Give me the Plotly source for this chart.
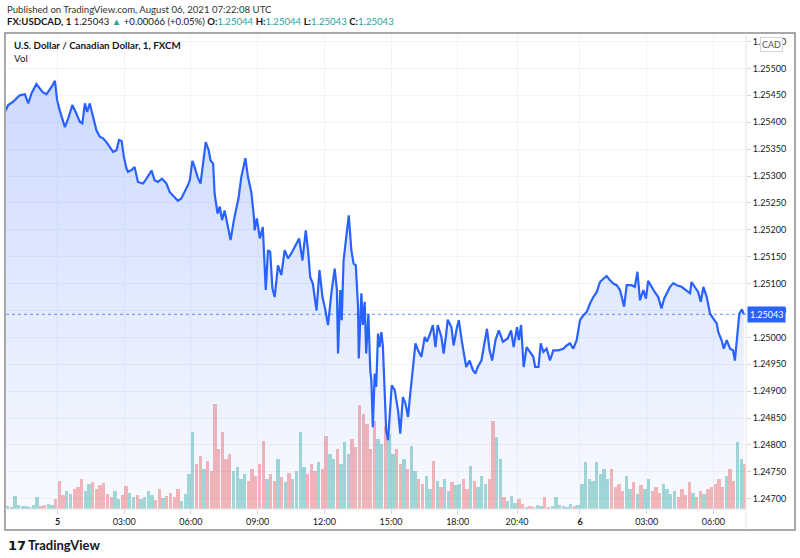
import numpy as np
import pandas as pd
import plotly.graph_objects as go

# USDCAD 1-minute chart
# times are minutes from 2021-08-05 00:00 UTC
price_min = [
    -142, -133, -120, -102, -88, -79, -70, -57, -48, -40,
    -30, -21, -13, -7, -1, 6, 15, 20, 29, 40,
    49, 60, 67, 74, 80, 87, 96, 105, 114, 123,
    132, 141, 150, 159, 166, 173, 179, 186, 190, 200,
    208, 217, 231, 240, 254, 262, 271, 282, 294, 303,
    314, 325, 334, 343, 352, 357, 364, 370, 378, 386,
    393, 400, 408, 413, 420, 424, 432, 438, 444, 451,
    458, 467, 476, 483, 489, 496, 503, 507, 514, 523,
    530, 532, 538, 546, 554, 559, 562, 568, 574, 580, 586,
    595, 604, 613, 622, 631, 640, 652, 661, 670, 676,
    682, 689, 699, 707, 715, 722, 730, 739, 748, 754,
    757, 763, 767, 772, 779, 786, 793, 799, 805, 811,
    813, 820, 824, 829, 833, 839, 844,
    847, 851, 856, 860, 865, 869, 874, 878, 883, 887, 892,
    898, 902, 910, 919, 925, 932, 939, 946, 952, 959,
    966, 973, 982, 991, 997, 1004, 1013, 1020, 1026, 1036,
    1042, 1049, 1053, 1063, 1069, 1078, 1083, 1092, 1103, 1112,
    1121, 1128, 1134, 1144, 1152, 1159, 1166, 1173, 1182, 1191,
    1202, 1215, 1224, 1231, 1240, 1245, 1251, 1258,
    1296, 1305, 1314, 1319, 1328, 1334, 1341, 1350, 1359, 1368, 1381, 1395, 1404, 1413, 1422, 1431,
    1440, 1449, 1458, 1467, 1476, 1485, 1494, 1503, 1512, 1521, 1530, 1539, 1548,
    1559, 1566, 1579, 1588, 1595, 1602, 1611, 1618, 1624, 1633, 1642, 1651, 1660,
    1667, 1674, 1683, 1692, 1701, 1714, 1726, 1737, 1741, 1750, 1759, 1766, 1773, 1782,
    1791, 1800, 1809, 1813, 1822, 1828, 1836, 1845, 1853, 1858, 1864, 1870, 1877, 1882,
]
prices = [
    1.25419, 1.25432, 1.25438, 1.25450, 1.25452, 1.25435, 1.25454, 1.25471, 1.25463, 1.25456,
    1.25452, 1.25460, 1.25469, 1.25477, 1.25441, 1.25422, 1.25404, 1.25391, 1.25407, 1.25432,
    1.25419, 1.25401, 1.25398, 1.25435, 1.25419, 1.25435, 1.25410, 1.25385, 1.25373, 1.25370,
    1.25363, 1.25354, 1.25345, 1.25348, 1.25367, 1.25365, 1.25336, 1.25314, 1.25308, 1.25311,
    1.25317, 1.25289, 1.25286, 1.25295, 1.25310, 1.25292, 1.25289, 1.25295, 1.25286, 1.25270,
    1.25261, 1.25254, 1.25258, 1.25270, 1.25283, 1.25292, 1.25328, 1.25317, 1.25298, 1.25286,
    1.25323, 1.25363, 1.25348, 1.25329, 1.25323, 1.25267, 1.25230, 1.25243, 1.25218, 1.25236,
    1.25212, 1.25181, 1.25218, 1.25243, 1.25261, 1.25298, 1.25323, 1.25333, 1.25298, 1.25270,
    1.25224, 1.25199, 1.25221, 1.25184, 1.25205, 1.25143, 1.25088, 1.25162, 1.25159, 1.25091, 1.25075,
    1.25134, 1.25116, 1.25162, 1.25147, 1.25156, 1.25168, 1.25184, 1.25143, 1.25199, 1.25162,
    1.25112, 1.25100, 1.25050, 1.25125, 1.25075, 1.25054, 1.25023, 1.25082, 1.25128, 1.25088,
    1.24970, 1.25088, 1.25032, 1.25143, 1.25181, 1.25227, 1.25162, 1.25137, 1.25134, 1.25057,
    1.24961, 1.25082, 1.25023, 1.25066, 1.24970, 1.25044, 1.24939,
    1.24920, 1.24833, 1.24933, 1.24908, 1.25007, 1.24982, 1.25010, 1.24985, 1.24889, 1.24827, 1.24809,
    1.24864, 1.24911, 1.24902, 1.24864, 1.24821, 1.24889, 1.24877, 1.24852, 1.24896, 1.24945,
    1.24989, 1.24976, 1.24964, 1.25001, 1.24992, 1.25004, 1.25023, 1.24982, 1.25023, 1.25001,
    1.24970, 1.25007, 1.25033, 1.25019, 1.24985, 1.25019, 1.25032, 1.24989, 1.24945, 1.24957,
    1.24939, 1.24933, 1.24945, 1.24957, 1.24992, 1.25016, 1.24976, 1.24957, 1.24995, 1.25013,
    1.24992, 1.24998, 1.25013, 1.24982, 1.25019, 1.24995, 1.25023, 1.24945,
    1.24982, 1.24973, 1.24964, 1.24945, 1.24945, 1.24989, 1.24973, 1.24979, 1.24957, 1.24976, 1.24976, 1.24979, 1.24985, 1.24989, 1.24979, 1.24995,
    1.25032, 1.25041, 1.25047, 1.25063, 1.25075, 1.25084, 1.25103, 1.25109, 1.25114, 1.25106, 1.25100, 1.25097, 1.25088,
    1.25057, 1.25097, 1.25097, 1.25094, 1.25122, 1.25069, 1.25088, 1.25072, 1.25105, 1.25094, 1.25084, 1.25075, 1.25054,
    1.25072, 1.25082, 1.25094, 1.25101, 1.25097, 1.25094, 1.25088, 1.25082, 1.25103, 1.25094, 1.25084, 1.25066, 1.25094, 1.25075,
    1.25044, 1.25035, 1.25026, 1.25010, 1.24995, 1.24979, 1.24995, 1.24979, 1.24976, 1.24957, 1.25007, 1.25044, 1.25052, 1.25043,
]

# volume in 10 minute buckets: before the 21:00 break, then after it
vol_pre_start = -140
vol_pre = [
    3, 2, 13, 4, 3, 3, 2, 4, 12, 3, 4, 5, 4, 10,
    28, 14, 18, 15, 20,
    22, 30, 18, 25, 27, 20, 24, 26,
    15, 12, 18, 10, 14, 23,
    16, 12, 14,
    10, 12, 18, 14, 9, 20, 11, 13, 16, 12, 20, 8, 15,
    35, 77, 45, 53, 40, 48, 38,
    105, 60, 77, 50, 55,
    38, 42, 30, 35, 28, 40, 33, 45, 68,
    30, 35, 28, 50, 32, 27, 36, 30, 38,
    77, 42, 35, 45, 38, 47, 40, 73, 55,
    50, 60, 45, 67, 55, 70, 62,
    104, 95, 85,
    60, 88, 70, 65, 83, 75, 55, 60,
    45, 50, 40, 63, 38,
    30, 25, 33, 20, 48, 28, 22, 30, 18, 27, 24,
    25, 30, 20, 43, 28, 22, 33, 25, 30,
    88, 72, 50,
    12, 8, 13, 6, 10, 5,
]
vol_post_start = 1290
vol_post = [
    2, 3, 2, 4, 3, 12, 2, 3, 12, 4, 3, 2, 5, 3, 4,
    25, 47, 30, 28, 47, 35, 40, 30, 40,
    22, 25, 18, 33, 20, 27, 15, 24, 20, 30, 18, 22, 16, 25, 20,
    15, 18, 12, 20, 14, 27, 16, 12, 18, 15, 20, 22,
    25, 30, 22, 33, 40, 28, 67, 50, 45,
]

time_ticks = ["2021-08-05 00:00", "2021-08-05 03:00", "2021-08-05 06:00", "2021-08-05 09:00",
              "2021-08-05 12:00", "2021-08-05 15:00", "2021-08-05 18:00", "2021-08-05 20:40",
              "2021-08-06 00:00", "2021-08-06 03:00", "2021-08-06 06:00"]
time_labels = ["<b>5</b>", "03:00", "06:00", "09:00", "12:00", "15:00", "18:00", "20:40",
               "<b>6</b>", "03:00", "06:00"]
last_price = 1.25043

base = pd.Timestamp("2021-08-05 00:00")
p_time = base + pd.to_timedelta(price_min, unit="m")

bar_min = [vol_pre_start + 10 * i for i in range(len(vol_pre))] + \
          [vol_post_start + 10 * i for i in range(len(vol_post))]
vols = vol_pre + vol_post
bar_time = base + pd.to_timedelta([m + 5 for m in bar_min], unit="m")


def price_at(m):
    i = np.searchsorted(price_min, m, side="right") - 1
    return prices[max(i, 0)]


UP = "rgba(38,166,154,0.42)"
DOWN = "rgba(239,83,80,0.42)"
bar_colors = [UP if price_at(m + 10) >= price_at(m) else DOWN for m in bar_min]

FONT = "Lato, 'Liberation Sans', sans-serif"
TXT = "#131722"
GRID = "#f0f3fa"

fig = go.Figure()
fig.add_trace(go.Bar(
    x=bar_time, y=vols, marker_color=bar_colors, marker_line_width=0,
    width=9 * 60 * 1000, yaxis="y", hoverinfo="skip"))
fig.add_trace(go.Scatter(
    x=p_time, y=prices, yaxis="y2", mode="lines",
    line=dict(color="#2962ff", width=2.2),
    fill="tozeroy",
    fillgradient=dict(type="vertical", start=1.24681, stop=1.25564,
                      colorscale=[[0, "rgba(41,98,255,0.03)"], [1, "rgba(41,98,255,0.26)"]])))

fig.update_layout(
    width=800, height=558,
    margin=dict(l=6, r=54, t=34, b=49, autoexpand=False),
    paper_bgcolor="white", plot_bgcolor="white",
    showlegend=False, bargap=0,
    font=dict(family=FONT, size=10, color=TXT),
    xaxis=dict(
        type="date",
        range=["2021-08-04 21:41", "2021-08-06 07:28"],
        rangebreaks=[dict(values=["2021-08-05 21:00:00"], dvalue=30 * 60 * 1000)],
        tickvals=time_ticks, ticktext=time_labels,
        showgrid=True, gridcolor=GRID, gridwidth=1,
        ticks="outside", ticklen=4, tickcolor="#d1d4dc",
        tickfont=dict(size=9, color=TXT),
        showline=False, zeroline=False),
    yaxis=dict(range=[0, 475], visible=False, fixedrange=True),
    yaxis2=dict(
        overlaying="y", side="right", anchor="x",
        range=[1.24681, 1.25564],
        tick0=1.24700, dtick=0.0005, tickformat=".5f",
        showgrid=True, gridcolor=GRID, gridwidth=1,
        ticks="outside", ticklen=4, tickcolor="#d1d4dc",
        tickfont=dict(size=9, color=TXT),
        showline=False, zeroline=False),
)

# frame and separators
fig.add_shape(type="rect", xref="paper", yref="paper", x0=-0.0014, x1=1.0662, y0=-0.0442, y1=1.0021,
              line=dict(color="#8c8c8c", width=1.5))
fig.add_shape(type="line", xref="paper", yref="paper", x0=1, x1=1, y0=-0.0442, y1=1.0021,
              line=dict(color="#e0e3eb", width=1))
fig.add_shape(type="line", xref="paper", yref="paper", x0=-0.0014, x1=1, y0=0, y1=0,
              line=dict(color="#e0e3eb", width=1))
fig.add_shape(type="line", xref="paper", yref="y2", x0=0, x1=1, y0=last_price, y1=last_price,
              line=dict(color="#2962ff", width=1, dash="dot"), opacity=0.7)

teal = "#26a69a"
hdr2 = (f"<b>FX:USDCAD, 1</b> 1.25043 <span style='color:{teal}'>▲</span> +0.00066 (+0.05%) "
        f"<b>O:</b><span style='color:{teal}'>1.25044</span> "
        f"<b>H:</b><span style='color:{teal}'>1.25044</span> "
        f"<b>L:</b><span style='color:{teal}'>1.25043</span> "
        f"<b>C:</b><span style='color:{teal}'>1.25043</span>")

ann = [
    dict(text="Published on TradingView.com, August 06, 2021 07:22:08 UTC",
         x=-0.0014, y=1.0526, font=dict(size=9.6, color="#333")),
    dict(text=hdr2, x=-0.0014, y=1.0253, font=dict(size=9.6, color=TXT)),
    dict(text="<b>U.S. Dollar / Canadian Dollar, 1, FXCM</b>", x=0.0081, y=0.9768,
         font=dict(size=9.8, color=TXT)),
    dict(text="Vol", x=0.0081, y=0.9495, font=dict(size=9.8, color=TXT)),
    dict(text="<b>17</b>", x=0.0, y=-0.0758, font=dict(size=13, color=TXT, family="DejaVu Sans")),
    dict(text="<b>TradingView</b>", x=0.027, y=-0.0758, font=dict(size=13, color=TXT)),
]
for a in ann:
    fig.add_annotation(xref="paper", yref="paper", xanchor="left", yanchor="middle",
                       showarrow=False, **a)

fig.add_annotation(text="CAD", xref="paper", yref="paper", x=1.0338, y=0.9785,
                   xanchor="center", yanchor="middle", showarrow=False,
                   font=dict(size=9, color="#555"), bgcolor="white",
                   bordercolor="#d1d4dc", borderwidth=1, borderpad=1)
fig.add_annotation(text=f"{last_price:.5f}", xref="paper", yref="y2", x=1, y=last_price,
                   xanchor="left", yanchor="middle", xshift=1, showarrow=False,
                   font=dict(size=9, color="white"), bgcolor="#2962ff", borderpad=2)

# the page body has a default 8px margin; drop it so the figure sits at the window corner
fig.write_html("out.html", config={"displayModeBar": False},
               post_script="document.body.style.margin='0';")
